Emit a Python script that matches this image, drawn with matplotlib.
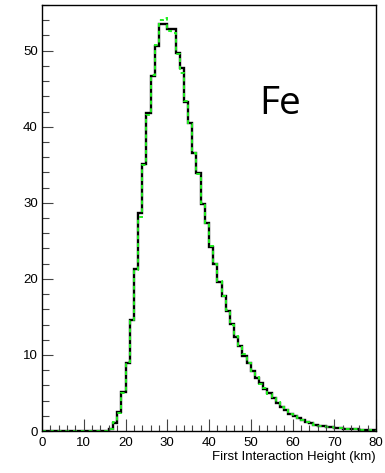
import numpy as np
import matplotlib.pyplot as plt
from matplotlib.ticker import MultipleLocator

# ==========================
# Histogram data (1 km bins, 0-80 km)
# ==========================

bin_edges = np.arange(0, 81, 1)

counts_black = [
    0, 0, 0, 0, 0, 0, 0, 0, 0, 0,
    0, 0, 0, 0, 0, 0, 0.3, 1.1, 2.5, 5.1,
    9.0, 14.6, 21.3, 28.6, 35.1, 41.8, 46.7, 50.6, 53.5, 53.5,
    52.9, 52.8, 49.7, 47.7, 43.2, 40.5, 36.5, 33.9, 29.8, 27.4,
    24.2, 22.0, 19.6, 17.8, 15.8, 14.1, 12.4, 11.2, 9.9, 9.0,
    7.9, 7.0, 6.3, 5.5, 5.0, 4.3, 3.7, 3.2, 2.8, 2.3,
    2.0, 1.7, 1.4, 1.2, 1.0, 0.83, 0.7, 0.6, 0.55, 0.47,
    0.42, 0.37, 0.32, 0.28, 0.25, 0.22, 0.19, 0.16, 0.14, 0.12,
]

counts_green = [
    0, 0, 0, 0, 0, 0, 0, 0, 0, 0,
    0, 0, 0, 0, 0, 0, 0.3, 1.2, 2.4, 5.0,
    9.1, 14.5, 21.1, 28.1, 35.0, 41.6, 46.8, 50.8, 54.0, 54.3,
    52.6, 52.3, 49.6, 47.1, 43.4, 40.3, 36.6, 33.8, 30.0, 27.3,
    24.3, 21.9, 19.7, 17.7, 15.9, 14.0, 12.5, 11.1, 10.1, 8.9,
    7.9, 7.1, 6.2, 5.6, 4.9, 4.3, 3.8, 3.2, 2.7, 2.3,
    2.0, 1.7, 1.4, 1.2, 1.0, 0.85, 0.7, 0.6, 0.53, 0.47,
    0.42, 0.36, 0.32, 0.28, 0.25, 0.21, 0.19, 0.16, 0.14, 0.12,
]

plt.rcParams['font.family'] = ['Liberation Sans', 'DejaVu Sans']

fig = plt.figure(figsize=(3.85, 4.73), dpi=100)
ax = fig.add_axes([42 / 385, 42 / 473, 334 / 385, 426 / 473])

ax.stairs(counts_black, bin_edges, color='black', linewidth=1.7)
ax.stairs(counts_green, bin_edges, color='#22ee22', linewidth=1.4,
          linestyle=(0, (2, 2)))

ax.set_xlim(0, 80)
ax.set_ylim(0, 56)

ax.xaxis.set_major_locator(MultipleLocator(10))
ax.xaxis.set_minor_locator(MultipleLocator(2))
ax.yaxis.set_major_locator(MultipleLocator(10))
ax.yaxis.set_minor_locator(MultipleLocator(2))

ax.tick_params(axis='x', which='major', direction='in', length=9, width=0.8,
               color='#444444', labelsize=9.5, pad=4)
ax.tick_params(axis='x', which='minor', direction='in', length=4.5, width=0.8,
               color='#444444')
ax.tick_params(axis='y', which='major', direction='in', length=8, width=0.8,
               color='#444444', labelsize=9.5, pad=3)
ax.tick_params(axis='y', which='minor', direction='in', length=5, width=0.8,
               color='#444444')

for s in ax.spines.values():
    s.set_linewidth(1.0)

ax.set_xlabel("First Interaction Height (km)", loc='right', fontsize=9.5,
              labelpad=2)

ax.text(0.713, 0.768, "Fe", transform=ax.transAxes, fontsize=28,
        family='Open Sans', ha='center', va='center')

plt.savefig("out.png", dpi=100)
